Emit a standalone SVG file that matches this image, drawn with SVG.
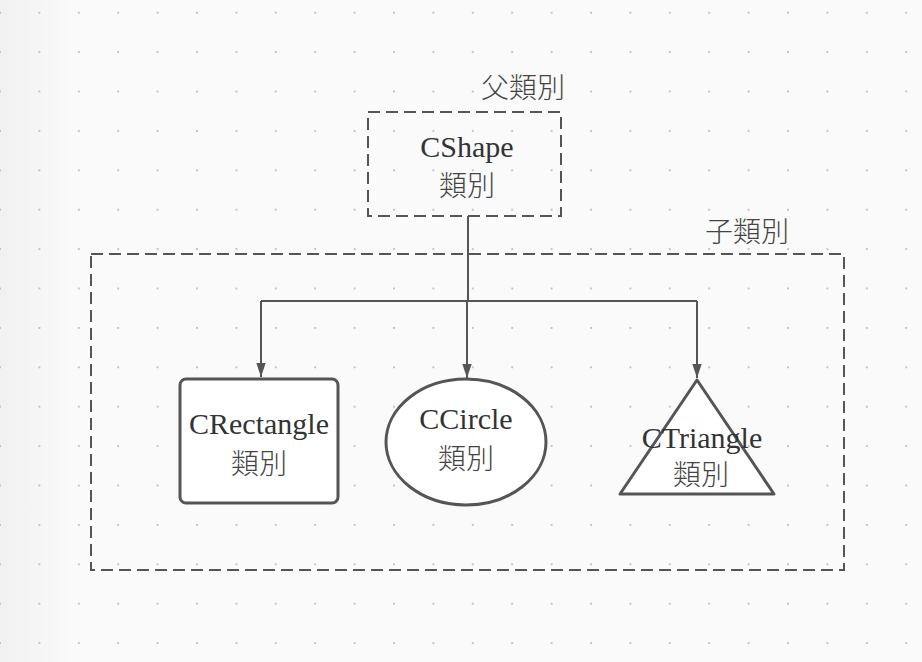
<svg xmlns="http://www.w3.org/2000/svg" width="922" height="662" viewBox="0 0 922 662">
  <defs>
    <linearGradient id="bg" x1="0" y1="0" x2="1" y2="0">
      <stop offset="0" stop-color="#f1f1f1"/>
      <stop offset="0.08" stop-color="#fafafa"/>
      <stop offset="1" stop-color="#fafafa"/>
    </linearGradient>
    <pattern id="dots" x="0" y="12.7" width="39.4" height="39.4" patternUnits="userSpaceOnUse">
      <rect x="-0.8" y="-0.8" width="1.6" height="1.6" fill="#a8a8a8"/>
      <rect x="38.6" y="-0.8" width="1.6" height="1.6" fill="#a8a8a8"/>
      <rect x="-0.8" y="38.6" width="1.6" height="1.6" fill="#a8a8a8"/>
      <rect x="38.6" y="38.6" width="1.6" height="1.6" fill="#a8a8a8"/>
    </pattern>
    <marker id="arrow" markerUnits="userSpaceOnUse" markerWidth="14" markerHeight="20" refX="18" refY="6" orient="auto" viewBox="0 0 18 12">
      <path d="M0,0 L18,6 L0,12 Z" fill="#555"/>
    </marker>
  </defs>
  <style>
    .lat { font-family: "Liberation Serif", "Times New Roman", serif; font-size: 30px; fill: #333; text-anchor: middle; }
    .cjk { font-family: "Noto Sans CJK TC", "Noto Sans CJK SC", sans-serif; font-size: 28px; font-weight: 300; fill: #444; text-anchor: middle; }
    .dash { fill: none; stroke: #555; stroke-width: 2; stroke-dasharray: 12 6; }
    .shape { fill: #fff; stroke: #555; stroke-width: 3; stroke-linejoin: round; }
    .conn { fill: none; stroke: #555; stroke-width: 2; }
  </style>
  <rect width="922" height="662" fill="url(#bg)"/>
  <rect width="922" height="662" fill="url(#dots)"/>

  <g id="child-group">
    <rect class="dash" x="91" y="254" width="753" height="316"/>
    <text class="cjk" x="747" y="242">子類別</text>
  </g>

  <g id="parent-group">
    <rect class="dash" x="368" y="112" width="193" height="104"/>
    <text class="cjk" x="523" y="98">父類別</text>
  </g>

  <g id="connectors">
    <path class="conn" d="M468,216 L468,301"/>
    <path class="conn" d="M261,301 L697,301"/>
    <path class="conn" d="M261,301 L261,377" marker-end="url(#arrow)"/>
    <path class="conn" d="M467,301 L467,378" marker-end="url(#arrow)"/>
    <path class="conn" d="M697,301 L697,378" marker-end="url(#arrow)"/>
  </g>

  <g id="cshape">
    <text class="lat" x="467" y="157">CShape</text>
    <text class="cjk" x="467" y="196">類別</text>
  </g>

  <g id="crectangle">
    <rect class="shape" x="180" y="379" width="158" height="124" rx="6"/>
    <text class="lat" x="259" y="434">CRectangle</text>
    <text class="cjk" x="259" y="474">類別</text>
  </g>

  <g id="ccircle">
    <ellipse class="shape" cx="466" cy="442" rx="80" ry="63"/>
    <text class="lat" x="466" y="429">CCircle</text>
    <text class="cjk" x="466" y="469">類別</text>
  </g>

  <g id="ctriangle">
    <path class="shape" d="M697,380 L774,494 L620,494 Z"/>
    <text class="lat" x="702" y="448">CTriangle</text>
    <text class="cjk" x="701" y="485">類別</text>
  </g>
</svg>
